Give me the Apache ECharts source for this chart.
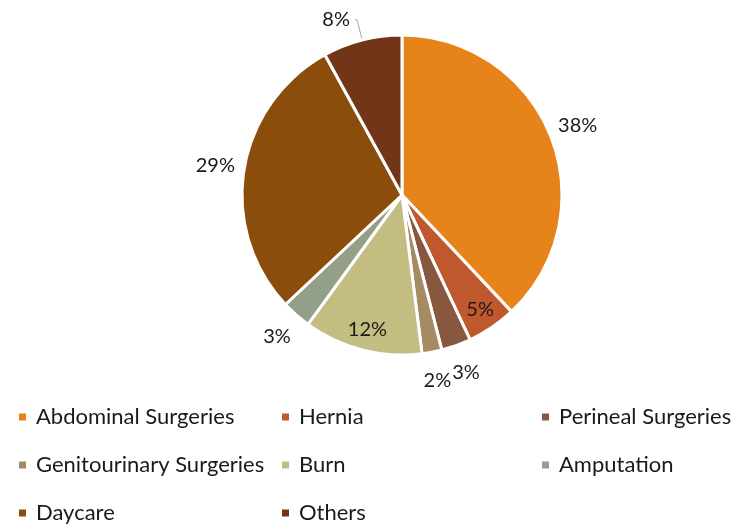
<!DOCTYPE html>
<html>
<head>
<meta charset="utf-8">
<script src="https://cdn.jsdelivr.net/npm/echarts@6/dist/echarts.min.js"></script>
<style>
  html, body { margin: 0; padding: 0; background: #fff; }
  #main { width: 750px; height: 532px; }
</style>
</head>
<body>
<div id="main"></div>
<script>
const categories = ['Abdominal Surgeries', 'Hernia', 'Perineal Surgeries', 'Genitourinary Surgeries',
  'Burn', 'Amputation', 'Daycare', 'Others'];
const shares = [38, 5, 3, 2, 12, 3, 29, 8];
const colors = ['#E6831A', '#C0582E', '#88573F', '#A68A63', '#C4BD82', '#939F89', '#8A4D0B', '#733518'];
// which labels sit inside the slice, which one gets a leader line
const insideLabels = ['Hernia', 'Burn'];
const leaderLabels = ['Others'];

const legendColumns = [
  ['Abdominal Surgeries', 'Genitourinary Surgeries', 'Daycare'],
  ['Hernia', 'Burn', 'Others'],
  ['Perineal Surgeries', 'Amputation']
];
const legendLeft = [17, 280, 540];

const font = 'Lato, "Open Sans", sans-serif';
const center = [402, 195];
const R = 160;

const chart = echarts.init(document.getElementById('main'));

const mainData = categories.map((name, i) => ({
  name: name,
  value: shares[i],
  itemStyle: { color: colors[i] },
  label: { show: leaderLabels.includes(name) },
  labelLine: { show: leaderLabels.includes(name) }
}));

// transparent rings that only carry the percentage labels
const ringData = (wanted) => categories.map((name, i) => ({
  name: name,
  value: shares[i],
  label: { show: wanted(name) }
}));

const pctLabel = {
  formatter: '{c}%',
  fontFamily: font,
  fontSize: 20,
  color: '#1a1a1a'
};

const option = {
  animation: false,
  legend: legendColumns.map((names, k) => ({
    data: names,
    orient: 'vertical',
    left: legendLeft[k],
    top: 405,
    padding: 0,
    itemWidth: 9,
    itemHeight: 9,
    itemGap: 24,
    icon: 'rect',
    selectedMode: false,
    textStyle: { fontFamily: font, fontSize: 22, color: '#1a1a1a', lineHeight: 24, padding: [0, 0, 0, 4] }
  })),
  series: [
    {
      type: 'pie',
      center: center,
      radius: [0, R],
      startAngle: 90,
      clockwise: true,
      itemStyle: { borderColor: '#fff', borderWidth: 3 },
      label: Object.assign({ position: 'outside', padding: [0, 0, 16, 0] }, pctLabel),
      labelLine: { length: 21, length2: 2, lineStyle: { color: '#a6a6a6', width: 1 } },
      emphasis: { disabled: true },
      data: mainData
    },
    {
      type: 'pie',
      center: center,
      radius: [120, 152],
      startAngle: 90,
      silent: true,
      itemStyle: { color: 'rgba(0,0,0,0)' },
      label: Object.assign({ position: 'inside' }, pctLabel),
      labelLine: { show: false },
      data: ringData(n => insideLabels.includes(n))
    },
    {
      type: 'pie',
      center: center,
      radius: [172, 200],
      startAngle: 90,
      silent: true,
      itemStyle: { color: 'rgba(0,0,0,0)' },
      label: Object.assign({ position: 'inside' }, pctLabel),
      labelLine: { show: false },
      data: ringData(n => !insideLabels.includes(n) && !leaderLabels.includes(n))
    }
  ]
};

chart.setOption(option);
</script>
</body>
</html>
